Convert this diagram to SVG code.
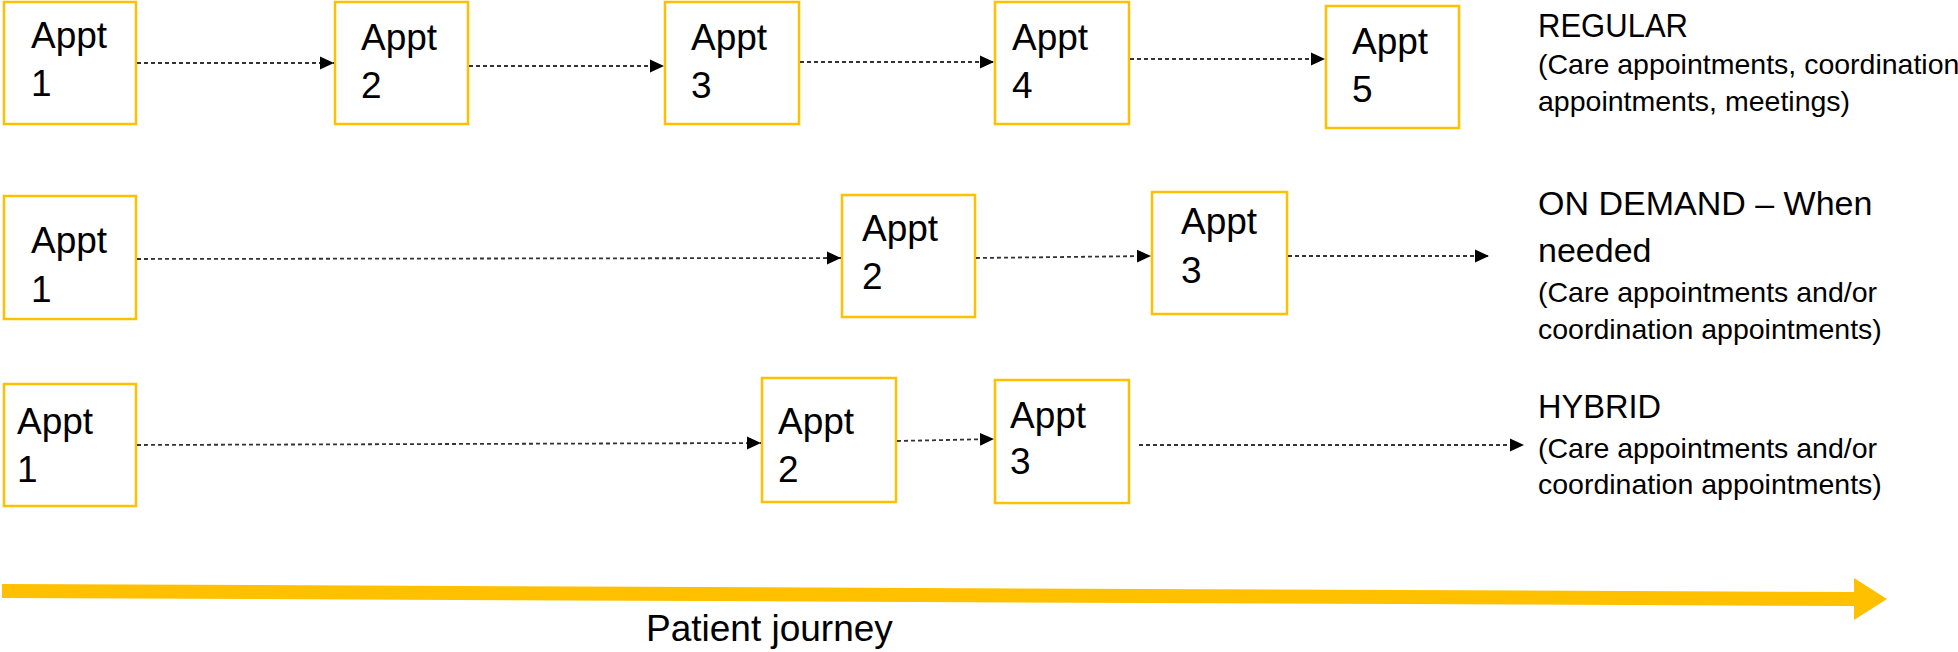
<svg xmlns="http://www.w3.org/2000/svg" width="1958" height="652" viewBox="0 0 1958 652">
<style>
  .box { fill: #FFFFFF; stroke: #FFC000; stroke-width: 2.5; }
  .lbl { font-family: "Liberation Sans", Arial, sans-serif; font-size: 37px; fill: #000000; }
  .head { font-family: "Liberation Sans", Arial, sans-serif; font-size: 34px; fill: #000000; }
  .sub { font-family: "Liberation Sans", Arial, sans-serif; font-size: 28.5px; fill: #000000; }
  .conn { fill: none; stroke: #333333; stroke-width: 1.8; stroke-dasharray: 4 3; }
</style>
<defs>
  <marker id="ah" markerUnits="userSpaceOnUse" markerWidth="14" markerHeight="14" viewBox="0 0 13 12" refX="13" refY="6" orient="auto">
    <path d="M0,0 L13,6 L0,12 Z" fill="#000000"/>
  </marker>
</defs>
<rect width="1958" height="652" fill="#FFFFFF"/>

<!-- Row 1: REGULAR -->
<g id="r1-appt1"><rect class="box" x="4" y="2" width="132" height="122"/><text class="lbl" x="31" y="48">Appt</text><text class="lbl" x="31" y="96">1</text></g>
<g id="r1-appt2"><rect class="box" x="335" y="2" width="133" height="122"/><text class="lbl" x="361" y="50">Appt</text><text class="lbl" x="361" y="98">2</text></g>
<g id="r1-appt3"><rect class="box" x="665" y="2" width="134" height="122"/><text class="lbl" x="691" y="50">Appt</text><text class="lbl" x="691" y="98">3</text></g>
<g id="r1-appt4"><rect class="box" x="995" y="2" width="134" height="122"/><text class="lbl" x="1012" y="50">Appt</text><text class="lbl" x="1012" y="98">4</text></g>
<g id="r1-appt5"><rect class="box" x="1326" y="6" width="133" height="122"/><text class="lbl" x="1352" y="54">Appt</text><text class="lbl" x="1352" y="102">5</text></g>
<g id="r1-label">
  <text class="head" x="1538" y="37" textLength="150" lengthAdjust="spacingAndGlyphs">REGULAR</text>
  <text class="sub" x="1538" y="74">(Care appointments, coordination</text>
  <text class="sub" x="1538" y="111">appointments, meetings)</text>
</g>

<!-- Row 2: ON DEMAND -->
<g id="r2-appt1"><rect class="box" x="4" y="196" width="132" height="123"/><text class="lbl" x="31" y="253">Appt</text><text class="lbl" x="31" y="302">1</text></g>
<g id="r2-appt2"><rect class="box" x="842" y="195" width="133" height="122"/><text class="lbl" x="862" y="241">Appt</text><text class="lbl" x="862" y="289">2</text></g>
<g id="r2-appt3"><rect class="box" x="1152" y="192" width="135" height="122"/><text class="lbl" x="1181" y="234">Appt</text><text class="lbl" x="1181" y="283">3</text></g>
<g id="r2-label">
  <text class="head" x="1538" y="215">ON DEMAND – When</text>
  <text class="head" x="1538" y="262">needed</text>
  <text class="sub" x="1538" y="302">(Care appointments and/or</text>
  <text class="sub" x="1538" y="339">coordination appointments)</text>
</g>

<!-- Row 3: HYBRID -->
<g id="r3-appt1"><rect class="box" x="4" y="384" width="132" height="122"/><text class="lbl" x="17" y="434">Appt</text><text class="lbl" x="17" y="482">1</text></g>
<g id="r3-appt2"><rect class="box" x="762" y="378" width="134" height="124"/><text class="lbl" x="778" y="434">Appt</text><text class="lbl" x="778" y="482">2</text></g>
<g id="r3-appt3"><rect class="box" x="995" y="380" width="134" height="123"/><text class="lbl" x="1010" y="428">Appt</text><text class="lbl" x="1010" y="474">3</text></g>
<g id="r3-label">
  <text class="head" x="1538" y="418" textLength="123" lengthAdjust="spacingAndGlyphs">HYBRID</text>
  <text class="sub" x="1538" y="458">(Care appointments and/or</text>
  <text class="sub" x="1538" y="494">coordination appointments)</text>
</g>

<!-- Connectors -->
<g id="connectors">
  <line class="conn" x1="137" y1="63" x2="334" y2="63" marker-end="url(#ah)"/>
  <line class="conn" x1="469" y1="66" x2="664" y2="66" marker-end="url(#ah)"/>
  <line class="conn" x1="800" y1="62" x2="994" y2="62" marker-end="url(#ah)"/>
  <line class="conn" x1="1130" y1="59" x2="1325" y2="59" marker-end="url(#ah)"/>

  <line class="conn" x1="137" y1="259" x2="841" y2="258" marker-end="url(#ah)"/>
  <line class="conn" x1="976" y1="258" x2="1151" y2="256" marker-end="url(#ah)"/>
  <line class="conn" x1="1288" y1="256" x2="1489" y2="256" marker-end="url(#ah)"/>

  <line class="conn" x1="137" y1="445" x2="761" y2="443" marker-end="url(#ah)"/>
  <line class="conn" x1="897" y1="441" x2="994" y2="439" marker-end="url(#ah)"/>
  <line class="conn" x1="1139" y1="445" x2="1524" y2="445" marker-end="url(#ah)"/>
</g>

<!-- Patient journey arrow -->
<g id="journey">
  <polygon points="2,584 1854,592 1854,578 1887,599 1854,620 1854,606 2,598" fill="#FFC000"/>
  <text class="lbl" x="646" y="641" font-size="36">Patient journey</text>
</g>
</svg>
